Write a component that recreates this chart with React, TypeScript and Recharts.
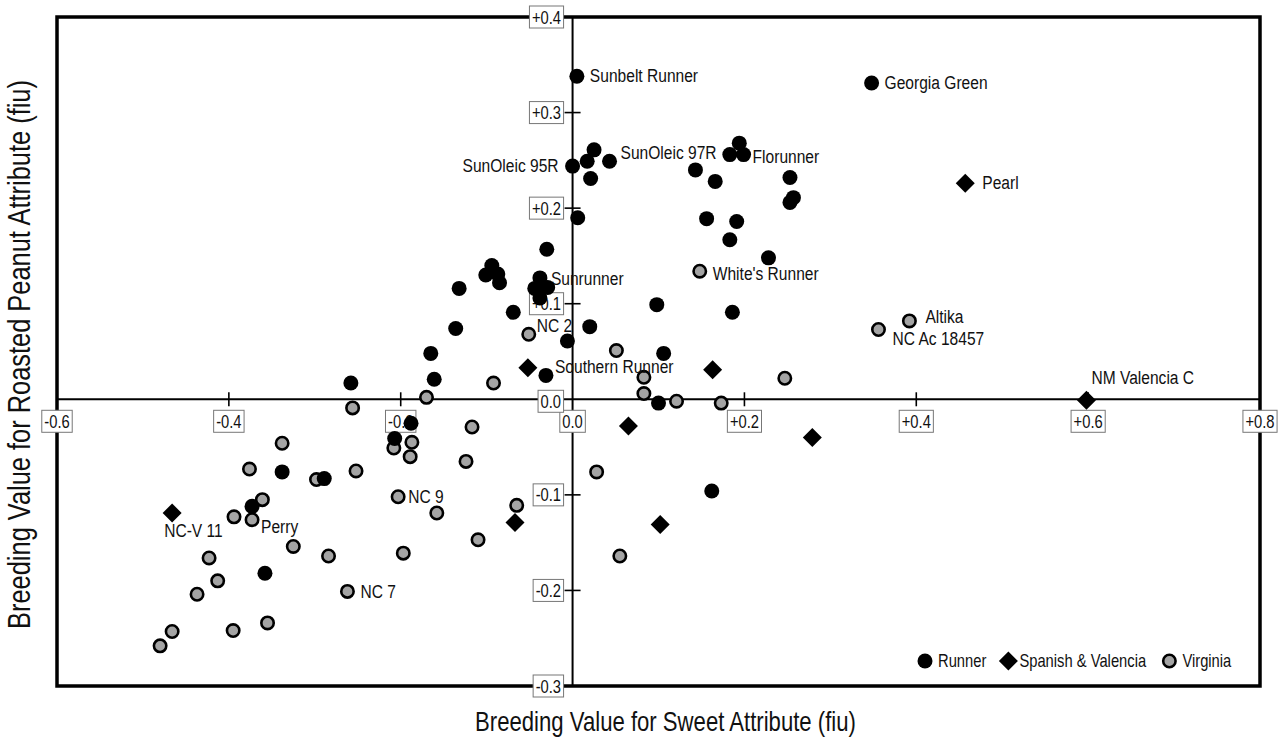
import React from 'react';
import {
  ScatterChart,
  Scatter,
  XAxis,
  YAxis,
  ReferenceLine,
  ReferenceArea,
  ReferenceDot,
  Legend,
  Label,
} from 'recharts';

// no Arial Narrow here, so Liberation Sans squeezed horizontally stands in for it
const FONT = "'Liberation Sans', Arial, sans-serif";
const SQUEEZE = 0.82;

type Pt = { x: number; y: number; label?: string };

const runner: Pt[] = [
  { x: 0.005, y: 0.338, label: 'Sunbelt Runner' },
  { x: 0.348, y: 0.331, label: 'Georgia Green' },
  { x: 0.0, y: 0.244, label: 'SunOleic 95R' },
  { x: 0.017, y: 0.249 },
  { x: 0.025, y: 0.261 },
  { x: 0.043, y: 0.249, label: 'SunOleic 97R' },
  { x: 0.021, y: 0.231 },
  { x: 0.006, y: 0.19 },
  { x: 0.143, y: 0.24 },
  { x: 0.166, y: 0.228 },
  { x: 0.194, y: 0.268 },
  { x: 0.183, y: 0.256 },
  { x: 0.199, y: 0.256, label: 'Florunner' },
  { x: 0.253, y: 0.232 },
  { x: 0.257, y: 0.211 },
  { x: 0.253, y: 0.206 },
  { x: 0.156, y: 0.189 },
  { x: 0.191, y: 0.186 },
  { x: 0.183, y: 0.167 },
  { x: 0.228, y: 0.148 },
  { x: -0.03, y: 0.157 },
  { x: -0.094, y: 0.14 },
  { x: -0.101, y: 0.13 },
  { x: -0.087, y: 0.131 },
  { x: -0.085, y: 0.122 },
  { x: -0.132, y: 0.116 },
  { x: -0.038, y: 0.127, label: 'Sunrunner' },
  { x: -0.044, y: 0.116 },
  { x: -0.035, y: 0.117 },
  { x: -0.029, y: 0.117 },
  { x: -0.038, y: 0.106 },
  { x: -0.069, y: 0.091 },
  { x: -0.136, y: 0.074 },
  { x: -0.165, y: 0.048 },
  { x: -0.161, y: 0.021 },
  { x: -0.258, y: 0.017 },
  { x: -0.006, y: 0.061 },
  { x: -0.031, y: 0.025, label: 'Southern Runner' },
  { x: 0.02, y: 0.076 },
  { x: 0.098, y: 0.099 },
  { x: 0.106, y: 0.048 },
  { x: 0.186, y: 0.091 },
  { x: 0.1, y: -0.004 },
  { x: -0.188, y: -0.025 },
  { x: -0.207, y: -0.041 },
  { x: -0.338, y: -0.076 },
  { x: -0.289, y: -0.083 },
  { x: -0.373, y: -0.112 },
  { x: -0.358, y: -0.182 },
  { x: 0.162, y: -0.096 },
];

const spanishValencia: Pt[] = [
  { x: 0.457, y: 0.226, label: 'Pearl' },
  { x: 0.598, y: -0.001, label: 'NM Valencia C' },
  { x: -0.052, y: 0.033 },
  { x: 0.163, y: 0.031 },
  { x: 0.065, y: -0.028 },
  { x: 0.279, y: -0.04 },
  { x: -0.067, y: -0.129 },
  { x: 0.102, y: -0.131 },
  { x: -0.466, y: -0.119, label: 'NC-V 11' },
];

const virginia: Pt[] = [
  { x: 0.148, y: 0.134, label: "White's Runner" },
  { x: 0.392, y: 0.082, label: 'Altika' },
  { x: 0.356, y: 0.073, label: 'NC Ac 18457' },
  { x: -0.051, y: 0.068, label: 'NC 2' },
  { x: 0.051, y: 0.051 },
  { x: 0.083, y: 0.023 },
  { x: 0.083, y: 0.006 },
  { x: 0.121, y: -0.002 },
  { x: 0.173, y: -0.004 },
  { x: 0.247, y: 0.022 },
  { x: -0.092, y: 0.017 },
  { x: -0.17, y: 0.002 },
  { x: -0.256, y: -0.009 },
  { x: -0.117, y: -0.029 },
  { x: -0.187, y: -0.045 },
  { x: -0.208, y: -0.051 },
  { x: -0.189, y: -0.06 },
  { x: -0.124, y: -0.065 },
  { x: -0.338, y: -0.046 },
  { x: -0.376, y: -0.073 },
  { x: -0.252, y: -0.075 },
  { x: -0.298, y: -0.084 },
  { x: -0.203, y: -0.102, label: 'NC 9' },
  { x: -0.361, y: -0.105 },
  { x: -0.394, y: -0.123 },
  { x: -0.373, y: -0.126, label: 'Perry' },
  { x: -0.158, y: -0.119 },
  { x: -0.065, y: -0.111 },
  { x: 0.028, y: -0.076 },
  { x: -0.325, y: -0.154 },
  { x: -0.284, y: -0.164 },
  { x: -0.197, y: -0.161 },
  { x: -0.11, y: -0.147 },
  { x: -0.423, y: -0.166 },
  { x: -0.413, y: -0.19 },
  { x: -0.437, y: -0.204 },
  { x: -0.262, y: -0.201, label: 'NC 7' },
  { x: -0.355, y: -0.234 },
  { x: -0.395, y: -0.242 },
  { x: -0.466, y: -0.243 },
  { x: -0.48, y: -0.258 },
  { x: 0.055, y: -0.164 },
];

const xTicks = [-0.6, -0.4, -0.2, 0, 0.2, 0.4, 0.6, 0.8];
const xTickLabels = ['-0.6', '-0.4', '-0.2', '0.0', '+0.2', '+0.4', '+0.6', '+0.8'];
const yTicks = [-0.3, -0.2, -0.1, 0, 0.1, 0.2, 0.3, 0.4];
const yTickLabels = ['-0.3', '-0.2', '-0.1', '0.0', '+0.1', '+0.2', '+0.3', '+0.4'];

const legendItems = ['Runner', 'Spanish & Valencia', 'Virginia'];

// where each cultivar name sits relative to its marker
const labelPlace: Record<string, { dx: number; dy: number; anchor?: 'start' | 'end' }> = {
  'Sunbelt Runner': { dx: 13, dy: 6 },
  'Georgia Green': { dx: 13, dy: 6 },
  'SunOleic 95R': { dx: -14, dy: 6, anchor: 'end' },
  'SunOleic 97R': { dx: 11, dy: -2 },
  Florunner: { dx: 9, dy: 8 },
  Sunrunner: { dx: 11, dy: 7 },
  'Southern Runner': { dx: 9, dy: -2 },
  Pearl: { dx: 17, dy: 6 },
  'NM Valencia C': { dx: 5, dy: -16 },
  'NC-V 11': { dx: -8, dy: 24 },
  "White's Runner": { dx: 13, dy: 9 },
  Altika: { dx: 16, dy: 2 },
  'NC Ac 18457': { dx: 14, dy: 15 },
  'NC 2': { dx: 8, dy: -2 },
  'NC 9': { dx: 10, dy: 6 },
  Perry: { dx: 9, dy: 13 },
  'NC 7': { dx: 13, dy: 7 },
};

const LABEL_SIZE = 19;
const TICK_SIZE = 18;

// rough Arial advance widths (em)
const AW: Record<string, number> = {
  ' ': 0.278, '&': 0.667, '+': 0.584, '-': 0.333, '.': 0.278, R: 0.722, S: 0.667, V: 0.667,
  a: 0.556, c: 0.5, e: 0.556, g: 0.556, h: 0.556, i: 0.222, l: 0.222, n: 0.556, p: 0.556,
  r: 0.333, s: 0.5, u: 0.556,
};
const textW = (s: string, size: number) => {
  let w = 0;
  for (const c of s) w += AW[c] ?? 0.556;
  return w * size * SQUEEZE;
};

type NProps = {
  x: number;
  y: number;
  size: number;
  anchor?: 'start' | 'middle' | 'end';
  rotate?: boolean;
  children: React.ReactNode;
};
const NText = ({ x, y, size, anchor = 'start', rotate, children }: NProps) => (
  <text
    transform={`translate(${x},${y})${rotate ? ' rotate(-90)' : ''} scale(${SQUEEZE},1)`}
    textAnchor={anchor}
    fontFamily={FONT}
    fontSize={size}
    fill="#111"
  >
    {children}
  </text>
);

const drawMarker = (kind: number, cx: number, cy: number) => {
  if (kind === 0) return <circle cx={cx} cy={cy} r={7.5} fill="#000" />;
  if (kind === 1) {
    const d = 9.5;
    return <path d={`M${cx},${cy - d}L${cx + d},${cy}L${cx},${cy + d}L${cx - d},${cy}Z`} fill="#000" />;
  }
  return <circle cx={cx} cy={cy} r={6.2} fill="#a4a4a4" stroke="#000" strokeWidth={2.6} />;
};

const makeShape = (kind: number) => (props: any) => {
  const { cx, cy, payload } = props;
  if (cx == null || cy == null) return <g />;
  const name: string | undefined = payload?.label;
  const place = name ? labelPlace[name] : undefined;
  return (
    <g>
      {drawMarker(kind, cx, cy)}
      {name && place && (
        <NText x={cx + place.dx} y={cy + place.dy} size={LABEL_SIZE} anchor={place.anchor ?? 'start'}>
          {name}
        </NText>
      )}
    </g>
  );
};

const boxedText = (text: string, cx: number, cy: number) => {
  const w = textW(text, TICK_SIZE) + 5;
  const h = 22;
  return (
    <g>
      <rect x={cx - w / 2} y={cy - h / 2} width={w} height={h} fill="#fff" stroke="#777" strokeWidth={1} />
      <NText x={cx} y={cy + 6.5} size={TICK_SIZE} anchor="middle">
        {text}
      </NText>
    </g>
  );
};

const xTickShape = (text: string, v: number) => (props: any) => {
  const { cx, cy } = props;
  if (cx == null || cy == null) return <g />;
  return (
    <g>
      {v !== 0 && <line x1={cx} x2={cx} y1={cy - 7} y2={cy + 7} stroke="#000" strokeWidth={1.6} />}
      {boxedText(text, cx, cy + 22)}
    </g>
  );
};

const yTickShape = (text: string, v: number) => (props: any) => {
  const { cx, cy } = props;
  if (cx == null || cy == null) return <g />;
  const w = textW(text, TICK_SIZE) + 5;
  return (
    <g>
      {v !== 0 && <line x1={cx - 8} x2={cx + 8} y1={cy} y2={cy} stroke="#000" strokeWidth={1.6} />}
      {boxedText(text, cx - 9 - w / 2, v === 0 ? cy + 2 : cy)}
    </g>
  );
};

const XTitle = (props: any) => {
  const vb = props.viewBox || {};
  return (
    <NText x={vb.x + vb.width / 2 + 7} y={vb.y + 45} size={27} anchor="middle">
      Breeding Value for Sweet Attribute (fiu)
    </NText>
  );
};

const YTitle = (props: any) => {
  const vb = props.viewBox || {};
  return (
    <NText x={vb.x + 30} y={vb.y + vb.height / 2 + 3} size={31} anchor="middle" rotate>
      Breeding Value for Roasted Peanut Attribute (fiu)
    </NText>
  );
};

const renderLegend = () => {
  const size = 18;
  let x = 10;
  const parts: React.ReactNode[] = [];
  legendItems.forEach((name, i) => {
    parts.push(<g key={`m${i}`}>{drawMarker(i, x, 11)}</g>);
    const tx = x + (i === 1 ? 11 : 13);
    parts.push(
      <NText key={`t${i}`} x={tx} y={17} size={size}>
        {name}
      </NText>
    );
    x = tx + textW(name, size) + 22;
  });
  return (
    <svg width={340} height={24} style={{ display: 'block' }}>
      {parts}
    </svg>
  );
};

const App: React.FC = () => {
  return (
    <div style={{ position: 'absolute', left: 0, top: 0, width: 1280, height: 738, background: '#fff' }}>
      <ScatterChart width={1280} height={738} margin={{ top: 17, right: 20, bottom: 0, left: 0 }}>
        <XAxis
          type="number"
          dataKey="x"
          domain={[-0.6, 0.8]}
          ticks={xTicks}
          tick={false}
          tickLine={false}
          axisLine={false}
          height={52}
          allowDataOverflow
        >
          <Label content={XTitle} />
        </XAxis>
        <YAxis
          type="number"
          dataKey="y"
          domain={[-0.3, 0.4]}
          ticks={yTicks}
          tick={false}
          tickLine={false}
          axisLine={false}
          width={57}
          allowDataOverflow
        >
          <Label content={YTitle} />
        </YAxis>
        <ReferenceArea x1={-0.6} x2={0.8} y1={-0.3} y2={0.4} fill="none" stroke="#000" strokeWidth={3.5} />
        <ReferenceLine x={0} stroke="#000" strokeWidth={2} zIndex={100} />
        <ReferenceLine y={0} stroke="#000" strokeWidth={2} zIndex={100} />
        {xTicks.map((v, i) => (
          <ReferenceDot
            key={`xt${i}`}
            x={v}
            y={0}
            r={1}
            zIndex={150}
            shape={xTickShape(xTickLabels[i], v)}
          />
        ))}
        {yTicks.map((v, i) => (
          <ReferenceDot
            key={`yt${i}`}
            x={0}
            y={v}
            r={1}
            zIndex={150}
            shape={yTickShape(yTickLabels[i], v)}
          />
        ))}
        <Scatter name="Virginia" data={virginia} shape={makeShape(2)} isAnimationActive={false} />
        <Scatter name="Runner" data={runner} shape={makeShape(0)} isAnimationActive={false} />
        <Scatter
          name="Spanish & Valencia"
          data={spanishValencia}
          shape={makeShape(1)}
          isAnimationActive={false}
        />
        <Legend
          layout="horizontal"
          verticalAlign="middle"
          align="center"
          content={renderLegend}
          wrapperStyle={{ left: 915, top: 650, width: 340 }}
        />
      </ScatterChart>
    </div>
  );
};

export default App;
